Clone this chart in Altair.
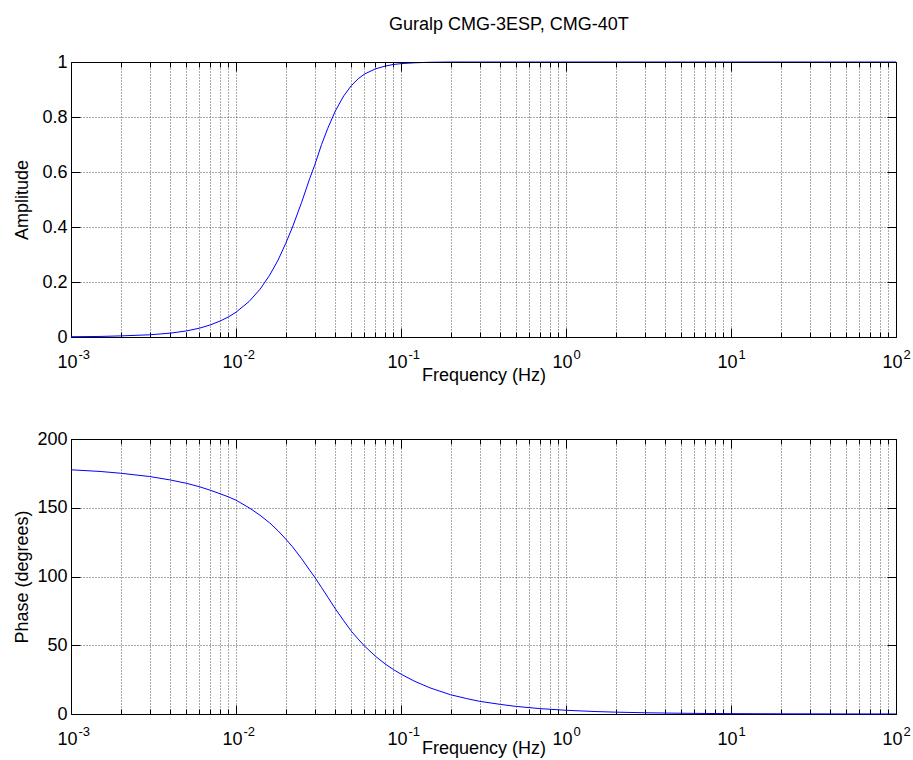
import altair as alt
import pandas as pd

# ---- data ----
freq = [0.001, 0.0015, 0.002, 0.003, 0.004, 0.005, 0.006, 0.007, 0.008, 0.009,
        0.01, 0.012, 0.014, 0.016, 0.018, 0.02, 0.022, 0.025, 0.028, 0.03,
        0.033, 0.036, 0.04, 0.045, 0.05, 0.055, 0.06, 0.07, 0.08, 0.09, 0.1,
        0.12, 0.15, 0.2, 0.25, 0.3, 0.4, 0.5, 0.7,
        1, 1.5, 2, 3, 5, 7, 10, 20, 50, 100]
amplitude = [0.001, 0.002, 0.004, 0.008, 0.014, 0.022, 0.032, 0.044, 0.058, 0.073,
             0.090, 0.129, 0.174, 0.225, 0.280, 0.340, 0.400, 0.490, 0.577, 0.625,
             0.700, 0.759, 0.822, 0.877, 0.914, 0.939, 0.956, 0.975, 0.985, 0.991, 0.994,
             0.997, 0.999, 1.0, 1.0, 1.0, 1.0, 1.0, 1.0,
             1.0, 1.0, 1.0, 1.0, 1.0, 1.0, 1.0, 1.0, 1.0, 1.0]
phase = [177.6, 176.4, 175.1, 172.7, 170.2, 167.8, 165.3, 162.7, 160.2, 157.9,
         155.5, 150.0, 144.5, 139.0, 133.2, 127.3, 121.6, 112.9, 104.5, 99.5,
         92.0, 85.0, 76.5, 67.8, 60.2, 54.5, 49.5, 42.0, 36.5, 32.3, 29.0,
         24.0, 19.0, 14.0, 11.2, 9.2, 7.0, 5.5, 3.9,
         2.7, 1.8, 1.35, 0.9, 0.54, 0.39, 0.27, 0.14, 0.05, 0.03]

x_ticks = [0.001, 0.002, 0.003, 0.004, 0.005, 0.006, 0.007, 0.008, 0.009,
           0.01, 0.02, 0.03, 0.04, 0.05, 0.06, 0.07, 0.08, 0.09,
           0.1, 0.2, 0.3, 0.4, 0.5, 0.6, 0.7, 0.8, 0.9,
           1, 2, 3, 4, 5, 6, 7, 8, 9,
           10, 20, 30, 40, 50, 60, 70, 80, 90,
           100]
decades = [0.001, 0.01, 0.1, 1, 10, 100]
amp_ticks = [0, 0.2, 0.4, 0.6, 0.8, 1]
phase_ticks = [0, 50, 100, 150, 200]

TITLE = "Guralp CMG-3ESP, CMG-40T"
X_TITLE = "Frequency (Hz)"

# ---- styling ----
FONT = "Liberation Sans"
W, H = 825, 275
GRID = "#555555"
DEC_TEST = "indexof([0.001, 0.01, 0.1, 1, 10, 100], datum.value) >= 0"
X_TICK_SIZE = {"condition": {"test": DEC_TEST, "value": 9}, "value": 5}

df = pd.DataFrame({"freq": freq, "amplitude": amplitude, "phase": phase})

xscale = alt.Scale(type="log", domain=[0.001, 100], nice=False)


def panel(ycol, ydomain, yticks, ytitle, xtitle_y):
    yscale = alt.Scale(domain=ydomain, nice=False, zero=False)
    base = alt.Chart(df)

    main = base.mark_line(color="#0000ff", strokeWidth=1).encode(
        x=alt.X("freq:Q", scale=xscale, axis=alt.Axis(
            orient="bottom", values=x_ticks,
            labelExpr=DEC_TEST + " ? '10' : ''",
            labelAlign="right", labelOffset=6, labelBaseline="alphabetic",
            labelPadding=30, labelFontSize=18, labelFlush=False, labelOverlap=False,
            ticks=False, tickSize=0,
            grid=True, gridDash=[1, 2], gridColor=GRID, gridWidth=1,
            domain=True, domainColor="black", domainWidth=1,
            title=X_TITLE, titleFontSize=18, titleFontWeight="normal",
            titleX=W / 2, titleY=xtitle_y, titleBaseline="alphabetic",
            titleAlign="center")),
        y=alt.Y(ycol + ":Q", scale=yscale, axis=alt.Axis(
            orient="left", values=yticks, labelExpr="'' + datum.value",
            labelAlign="right", labelBaseline="middle", labelPadding=4,
            labelFontSize=18, labelFlush=False, labelOverlap=False,
            ticks=False, tickSize=0,
            grid=True, gridDash=[1, 2], gridColor=GRID, gridWidth=1,
            domain=True, domainColor="black", domainWidth=1,
            title=ytitle, titleFontSize=18, titleFontWeight="normal",
            titleAngle=-90, titleX=-44, titleY=H / 2,
            titleBaseline="alphabetic", titleAlign="center")),
    )

    # exponent labels + inward ticks on the left edge
    l2 = base.mark_line(strokeOpacity=0).encode(
        x=alt.X("freq:Q", scale=xscale, axis=alt.Axis(
            orient="bottom", values=decades,
            labelExpr="toString(round(log(datum.value) / LN10))",
            labelAlign="left", labelOffset=7, labelBaseline="alphabetic",
            labelPadding=21, labelFontSize=13, labelFlush=False, labelOverlap=False,
            ticks=False, tickSize=0, grid=False, domain=False, title=None)),
        y=alt.Y(ycol + ":Q", scale=yscale, axis=alt.Axis(
            orient="right", offset=-W, values=yticks, labels=False,
            ticks=True, tickSize=9, tickColor="black", tickWidth=1,
            grid=False, domain=False, title=None)),
    )

    # inward ticks on the bottom edge + right frame with inward ticks
    l3 = base.mark_line(strokeOpacity=0).encode(
        x=alt.X("freq:Q", scale=xscale, axis=alt.Axis(
            orient="top", offset=-H, values=x_ticks, labels=False,
            ticks=True, tickSize=X_TICK_SIZE, tickColor="black", tickWidth=1,
            grid=False, domain=False, title=None)),
        y=alt.Y(ycol + ":Q", scale=yscale, axis=alt.Axis(
            orient="left", offset=-W, values=yticks, labels=False,
            ticks=True, tickSize=9, tickColor="black", tickWidth=1,
            grid=False, domain=True, domainColor="black", domainWidth=1,
            title=None, zindex=1)),
    )

    # top frame with inward ticks
    l4 = base.mark_line(strokeOpacity=0).encode(
        x=alt.X("freq:Q", scale=xscale, axis=alt.Axis(
            orient="bottom", offset=-H, values=x_ticks, labels=False,
            ticks=True, tickSize=X_TICK_SIZE, tickColor="black", tickWidth=1,
            grid=False, domain=True, domainColor="black", domainWidth=1,
            title=None, zindex=1)),
        y=alt.Y(ycol + ":Q", scale=yscale, axis=None),
    )

    return alt.layer(main, l2, l3, l4).properties(width=W, height=H).resolve_axis(
        x="independent", y="independent")


top = panel("amplitude", [0, 1], amp_ticks, "Amplitude", 43)
bottom = panel("phase", [0, 200], phase_ticks, "Phase (degrees)", 39)

chart = alt.vconcat(top, bottom, spacing=102, bounds="flush").properties(
    title=alt.TitleParams(text=TITLE, anchor="start", frame="group", dx=318,
                          fontSize=18, fontWeight="normal", font=FONT,
                          baseline="alphabetic", offset=5, color="black"),
    padding={"left": 13, "top": 16, "right": 2, "bottom": 2},
    background="white",
).configure_view(stroke=None).configure_axis(
    labelFont=FONT, titleFont=FONT, labelColor="black", titleColor="black")

chart.save("out.html", embed_options={"renderer": "svg", "actions": False})
